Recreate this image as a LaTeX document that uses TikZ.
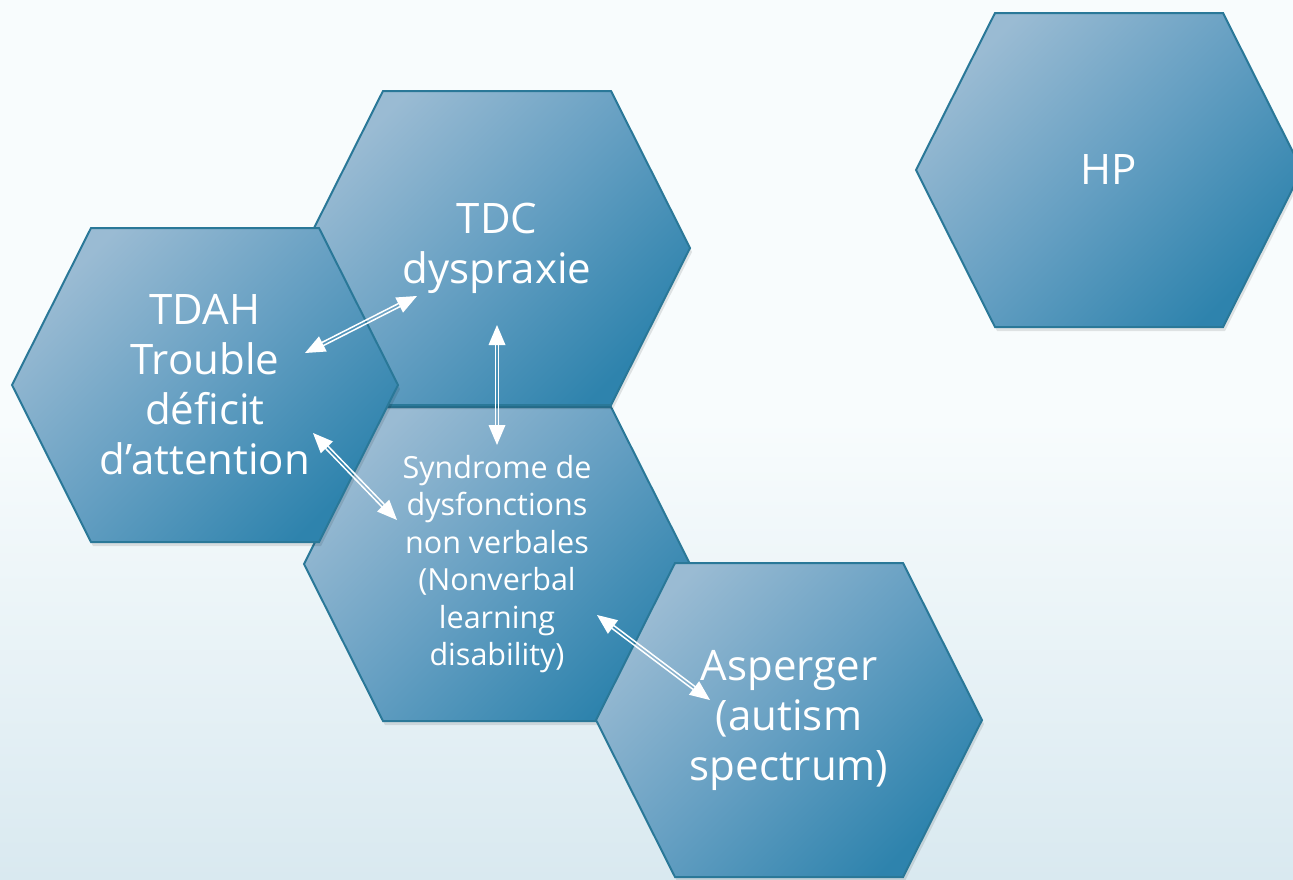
\documentclass[tikz,border=0pt]{standalone}
\usepackage{fontspec}
\setmainfont{Open Sans}[Ligatures=NoCommon]
\usetikzlibrary{calc}
\definecolor{bgtop}{HTML}{F8FCFD}
\definecolor{bgbot}{HTML}{D9E9F0}
\definecolor{hexlight}{HTML}{9ABBD3}
\definecolor{hexmid}{HTML}{659FC2}
\definecolor{hexdark}{HTML}{2E83AD}
\definecolor{hexborder}{HTML}{2A7898}
\tikzset{
  hexfill/.style={top color=hexlight, bottom color=hexdark, middle color=hexmid,
    shading angle=45, draw=hexborder, line width=2pt, line join=miter},
  hexshadow/.style={fill=black, opacity=0.10},
  hextext/.style={text=white, align=center, inner sep=0pt},
  bigtxt/.style={font=\fontsize{42}{50}\selectfont},
  smalltxt/.style={font=\fontsize{30.5}{37.4}\selectfont},
  arrline/.style={draw=white, line width=1.5pt},
  arrhead/.style={fill=white}
}
\newcommand\hexoutline[3]{({#2-193},{#3}) -- ({#2-114},{#3-157}) -- ({#2+114},{#3-157}) -- ({#2+193},{#3}) -- ({#2+114},{#3+157}) -- ({#2-114},{#3+157}) -- cycle}
\newcommand\hexnode[5]{%
  \fill[hexshadow] \hexoutline{}{#2+2}{#3+4};
  \shadedraw[hexfill] \hexoutline{}{#2}{#3};
  \node[hextext,#4] (#1) at (#2,#3) {#5};
}
\newcommand\dblarrow[2]{%
  \coordinate (#1s) at ($(#1)!16pt!(#2)$);
  \coordinate (#2s) at ($(#2)!16pt!(#1)$);
  \coordinate (#1b) at ($(#1)!20pt!(#2)$);
  \coordinate (#2b) at ($(#2)!20pt!(#1)$);
  \draw[arrline] ($(#1s)!1.7pt!90:(#2s)$) -- ($(#2s)!1.7pt!-90:(#1s)$);
  \draw[arrline] ($(#1s)!1.7pt!-90:(#2s)$) -- ($(#2s)!1.7pt!90:(#1s)$);
  \fill[arrhead] (#1) -- ($(#1b)!8.5pt!90:(#2)$) -- ($(#1b)!8.5pt!-90:(#2)$) -- cycle;
  \fill[arrhead] (#2) -- ($(#2b)!8.5pt!90:(#1)$) -- ($(#2b)!8.5pt!-90:(#1)$) -- cycle;
}
\begin{document}
\begin{tikzpicture}[x=1pt,y=-1pt]
\useasboundingbox (0,0) rectangle (1293,879);
\clip (0,0) rectangle (1293,879);
\fill[bgtop] (0,0) rectangle (1293,879);
\shade[top color=bgtop, bottom color=bgbot] (0,420) rectangle (1293,879);

\hexnode{synd}{497}{564}{smalltxt}{Syndrome de\\dysfonctions\\non verbales\\(Nonverbal\\learning\\disability)}
\hexnode{tdc}{497}{248}{bigtxt}{TDC\\dyspraxie}
\hexnode{tdah}{205}{385}{bigtxt}{TDAH\\Trouble\\déficit\\d’attention}
\hexnode{asp}{789}{720}{bigtxt}{Asperger\\(autism\\spectrum)}
\hexnode{hp}{1109}{170}{bigtxt}{HP}

\coordinate (a1) at (305,353);
\coordinate (b1) at (417,296);
\coordinate (a2) at (313,433);
\coordinate (b2) at (397,520);
\coordinate (a3) at (497,325);
\coordinate (b3) at (497,445);
\coordinate (a4) at (597,615);
\coordinate (b4) at (710,700);
\dblarrow{a1}{b1}
\dblarrow{a2}{b2}
\dblarrow{a3}{b3}
\dblarrow{a4}{b4}
\end{tikzpicture}
\end{document}
